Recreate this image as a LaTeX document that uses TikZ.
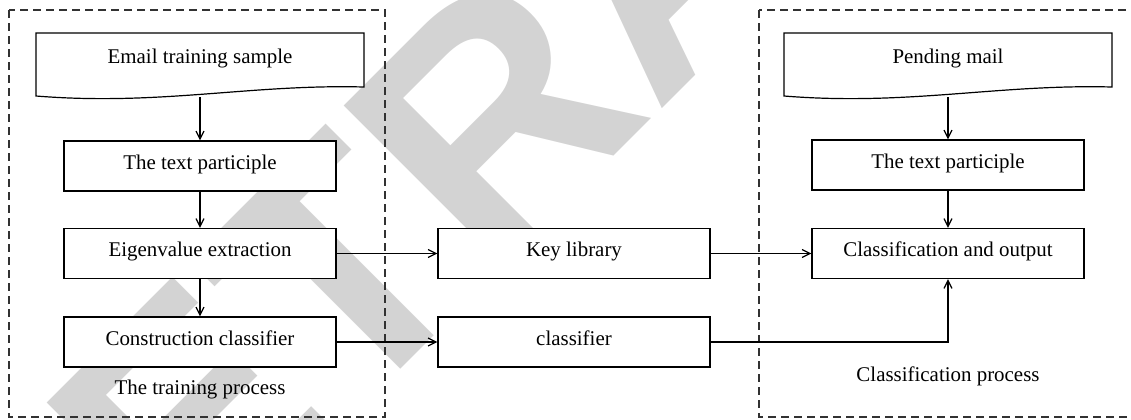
\documentclass[tikz,border=0pt]{standalone}
\usepackage{fontspec}
\setmainfont{Liberation Serif}
\newfontfamily\wmfont{Liberation Sans}
\usetikzlibrary{arrows.meta}

\definecolor{wmgrey}{RGB}{211,211,211}
\definecolor{framegrey}{RGB}{50,50,50}

\tikzset{
  every picture/.style={x=1bp, y=-1bp},
  txt/.style={font=\fontsize{21}{25}\selectfont, text height=0.662em, text depth=0pt, inner sep=0pt},
  proc/.style={txt, draw, fill=white, line width=1.2bp, minimum width=272bp, minimum height=50bp},
  docbox/.style={draw, fill=white, line width=1.2bp},
  flow/.style={line width=1.2bp, -{Straight Barb[length=8bp,width=8bp]}},
  group/.style={draw=framegrey, line width=1.2bp, dash pattern=on 8bp off 5bp},
  stamp/.style={font=\wmfont\bfseries\fontsize{330}{330}\selectfont, text=wmgrey, inner sep=0pt, rotate=45}
}

\begin{document}
\begin{tikzpicture}
\clip (0,0) rectangle (1131,419);

% background stamp
\node[stamp] (stamp) at (660,-50) {RETRACTED};

% process groups
\draw[group] (9,10) rectangle (385,417);
\draw[group] (759,10) rectangle (1140,417);

% document-shaped inputs
\draw[docbox] (36,33) -- (364,33) -- (364,87)
  .. controls (250,84) and (160,106) .. (36,96) -- cycle;
\draw[docbox] (784,33) -- (1112,33) -- (1112,87)
  .. controls (998,84) and (908,106) .. (784,96) -- cycle;
\node[txt] (email) at (200,60.5) {Email training sample};
\node[txt] (pending) at (948,60.5) {Pending mail};
\coordinate (emailfoot) at (200,97);
\coordinate (pendingfoot) at (948,97);

% training column
\node[proc] (tpA) at (200,166) {The text participle};
\node[proc] (eig) at (200,253.5) {Eigenvalue extraction};
\node[proc] (con) at (200,342) {Construction classifier};
\node[txt] (trainlbl) at (200,391) {The training process};

% middle column
\node[proc] (key) at (574,253.5) {Key library};
\node[proc] (cls) at (574,342) {classifier};

% classification column
\node[proc] (tpB) at (948,165) {The text participle};
\node[proc] (out) at (948,253.5) {Classification and output};
\node[txt] (classlbl) at (948,378) {Classification process};

% connectors
\draw[flow] (emailfoot) -- (tpA.north);
\draw[flow] (tpA) -- (eig);
\draw[flow] (eig) -- (con);
\draw[flow] (pendingfoot) -- (tpB.north);
\draw[flow] (tpB) -- (out);
\draw[flow] (eig) -- (key);
\draw[flow] (con) -- (cls);
\draw[flow] (key) -- (out);
\draw[flow] (cls.east) -| (out.south);
\end{tikzpicture}
\end{document}
